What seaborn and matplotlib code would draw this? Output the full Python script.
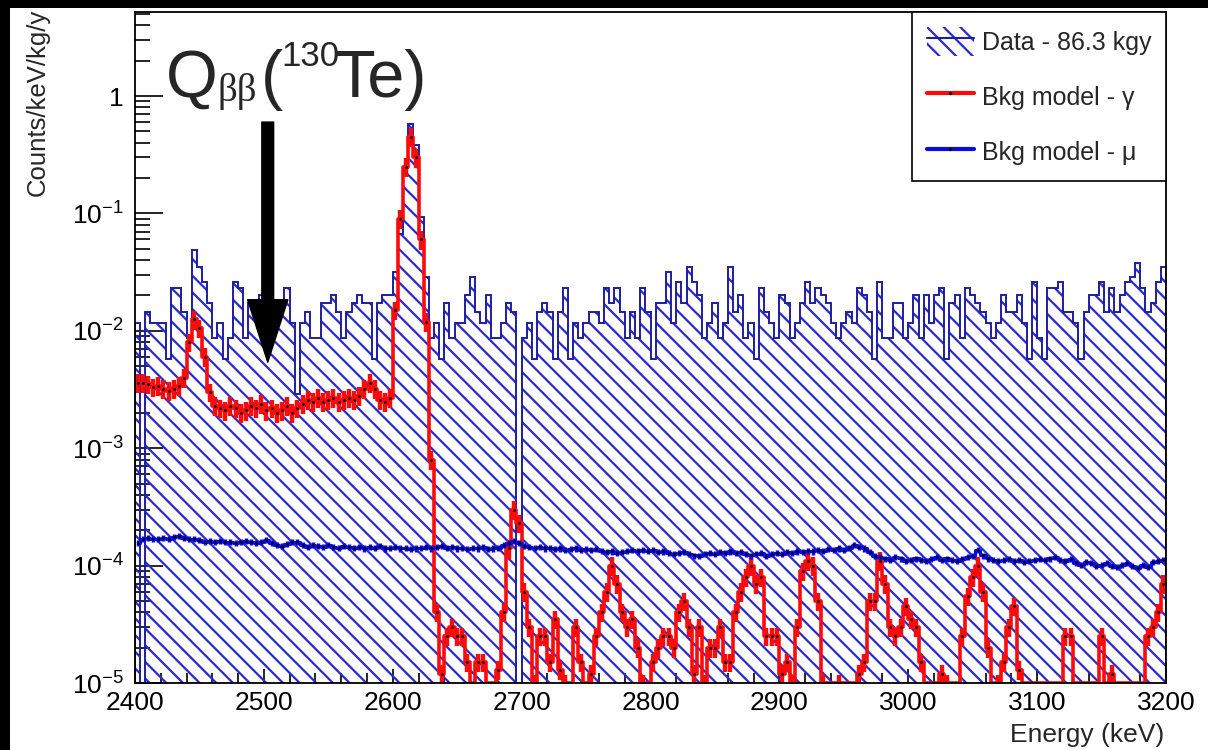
import numpy as np
import matplotlib
matplotlib.use('Agg')
import matplotlib.pyplot as plt
import seaborn as sns
from matplotlib.patches import Patch, Rectangle
from matplotlib.lines import Line2D
from matplotlib.ticker import FixedLocator, FuncFormatter, LogLocator, MultipleLocator, NullFormatter


# --------------------- data: 4 keV bins from 2400 to 3200 keV -------------------------- #
e_min, e_max, bin_width = 2400, 3200, 4
exposure = 86.3   # kg*y

# measured counts per bin
data_counts = [
    4, 0, 5, 4, 4, 4, 2, 8, 8, 5, 3, 17, 12, 9, 6, 3, 4, 2, 3, 9,
    8, 3, 6, 6, 7, 6, 6, 6, 6, 8, 4, 1, 4, 5, 3, 3, 6, 6, 7, 5,
    3, 5, 6, 7, 6, 6, 2, 6, 7, 7, 11, 23, 84, 200, 131, 32, 10, 3, 4, 2,
    6, 3, 4, 4, 7, 10, 5, 4, 7, 3, 3, 4, 6, 5, 0, 3, 4, 2, 5, 6,
    5, 2, 5, 8, 2, 4, 3, 4, 5, 5, 4, 8, 6, 8, 5, 3, 5, 3, 8, 5,
    2, 6, 6, 11, 4, 9, 6, 12, 9, 7, 3, 4, 6, 3, 4, 12, 5, 7, 3, 4,
    2, 8, 5, 4, 3, 7, 6, 3, 4, 6, 9, 6, 8, 7, 6, 4, 3, 4, 5, 4,
    8, 7, 5, 2, 9, 3, 3, 6, 6, 3, 4, 7, 3, 7, 4, 7, 8, 2, 6, 7,
    3, 8, 7, 6, 5, 4, 3, 4, 7, 5, 5, 7, 4, 2, 9, 3, 2, 8, 8, 9,
    5, 5, 4, 2, 5, 7, 7, 9, 5, 8, 5, 7, 9, 10, 13, 8, 5, 6, 9, 12,
]

# background model - gamma (counts/keV/kg/y)
gamma_model = [
    3.6e-3, 3.6e-3, 3.5e-3, 3.3e-3, 3.4e-3, 3.2e-3, 3.1e-3, 3.2e-3, 3.4e-3, 4.0e-3,
    8.0e-3, 1.25e-2, 1.05e-2, 6.0e-3, 3.0e-3, 2.3e-3, 2.2e-3, 2.1e-3, 2.3e-3, 2.2e-3,
    2.0e-3, 2.1e-3, 2.3e-3, 2.2e-3, 2.4e-3, 2.1e-3, 2.2e-3, 2.0e-3, 2.1e-3, 2.3e-3,
    2.0e-3, 2.2e-3, 2.4e-3, 2.6e-3, 2.5e-3, 2.7e-3, 2.5e-3, 2.6e-3, 2.7e-3, 2.5e-3,
    2.6e-3, 2.7e-3, 2.6e-3, 2.8e-3, 3.2e-3, 3.6e-3, 3.2e-3, 2.6e-3, 2.5e-3, 2.7e-3,
    1.5e-2, 9.0e-2, 0.25, 0.45, 0.30, 6.0e-2, 1.2e-2, 8.0e-4, 4.0e-5, 1.2e-5,
    2.5e-5, 3.0e-5, 2.5e-5, 2.5e-5, 1.5e-5, 0, 1.5e-5, 1.5e-5, 0, 0,
    1.3e-5, 4.0e-5, 1.4e-4, 3.0e-4, 2.3e-4, 6.0e-5, 3.0e-5, 1.0e-5, 2.5e-5, 2.5e-5,
    1.5e-5, 3.5e-5, 1.3e-5, 1.0e-5, 0, 3.0e-5, 1.5e-5, 0, 1.2e-5, 2.5e-5,
    4.0e-5, 6.0e-5, 1.0e-4, 7.0e-5, 4.0e-5, 3.0e-5, 3.5e-5, 2.0e-5, 1.0e-5, 0,
    1.5e-5, 2.0e-5, 2.5e-5, 2.5e-5, 2.0e-5, 4.0e-5, 5.0e-5, 3.0e-5, 1.2e-5, 3.0e-5,
    1.0e-5, 2.0e-5, 2.0e-5, 3.0e-5, 1.5e-5, 1.5e-5, 4.0e-5, 6.0e-5, 8.0e-5, 1.0e-4,
    7.0e-5, 8.0e-5, 2.5e-5, 2.5e-5, 2.5e-5, 1.2e-5, 1.5e-5, 1.0e-5, 3.0e-5, 9.0e-5,
    1.1e-4, 1.0e-4, 5.0e-5, 1.0e-5, 0, 0, 1.0e-5, 0, 0, 0,
    1.2e-5, 1.5e-5, 5.0e-5, 5.0e-5, 1.1e-4, 7.0e-5, 3.0e-5, 2.5e-5, 3.0e-5, 4.5e-5,
    3.5e-5, 3.0e-5, 1.5e-5, 0, 0, 0, 1.2e-5, 1.0e-5, 0, 0,
    2.5e-5, 5.5e-5, 8.0e-5, 1.0e-4, 6.0e-5, 2.0e-5, 0, 1.0e-5, 1.5e-5, 3.0e-5,
    4.5e-5, 1.3e-5, 0, 0, 0, 0, 0, 0, 0, 0,
    2.5e-5, 2.5e-5, 0, 0, 0, 0, 0, 2.5e-5, 0, 1.2e-5,
    0, 0, 0, 0, 0, 0, 2.5e-5, 3.0e-5, 4.0e-5, 7.0e-5,
]

# background model - muons (1e-4 counts/keV/kg/y)
muon_model = [
    1.55, 1.70, 1.72, 1.68, 1.70, 1.73, 1.70, 1.75, 1.80, 1.72,
    1.70, 1.68, 1.65, 1.60, 1.63, 1.60, 1.62, 1.58, 1.60, 1.55,
    1.60, 1.62, 1.58, 1.55, 1.60, 1.65, 1.55, 1.50, 1.48, 1.52,
    1.58, 1.60, 1.50, 1.45, 1.50, 1.48, 1.45, 1.50, 1.45, 1.42,
    1.48, 1.45, 1.42, 1.45, 1.40, 1.44, 1.42, 1.46, 1.40, 1.42,
    1.45, 1.40, 1.42, 1.38, 1.40, 1.42, 1.45, 1.40, 1.45, 1.48,
    1.42, 1.45, 1.40, 1.42, 1.38, 1.42, 1.40, 1.44, 1.38, 1.40,
    1.42, 1.50, 1.55, 1.62, 1.55, 1.48, 1.45, 1.42, 1.45, 1.40,
    1.42, 1.38, 1.40, 1.36, 1.38, 1.40, 1.36, 1.38, 1.35, 1.38,
    1.34, 1.30, 1.32, 1.28, 1.30, 1.33, 1.35, 1.32, 1.36, 1.33,
    1.35, 1.30, 1.32, 1.28, 1.25, 1.28, 1.30, 1.25, 1.22, 1.20,
    1.25, 1.28, 1.26, 1.30, 1.28, 1.32, 1.28, 1.30, 1.26, 1.22,
    1.25, 1.28, 1.20, 1.25, 1.28, 1.26, 1.30, 1.28, 1.32, 1.30,
    1.34, 1.32, 1.36, 1.34, 1.38, 1.35, 1.40, 1.36, 1.42, 1.50,
    1.45, 1.40, 1.30, 1.20, 1.18, 1.15, 1.12, 1.18, 1.15, 1.10,
    1.12, 1.15, 1.12, 1.10, 1.14, 1.18, 1.12, 1.15, 1.12, 1.10,
    1.14, 1.18, 1.20, 1.35, 1.22, 1.15, 1.12, 1.10, 1.12, 1.14,
    1.10, 1.12, 1.08, 1.10, 1.12, 1.14, 1.12, 1.15, 1.18, 1.12,
    1.10, 1.14, 1.05, 1.02, 1.08, 1.05, 1.00, 1.02, 1.06, 1.00,
    0.98, 1.02, 1.05, 1.00, 0.96, 1.02, 0.98, 1.08, 1.10, 1.12,
]

legend_labels = ['Data - 86.3 kgy', 'Bkg model - \u03b3', 'Bkg model - \u03bc']
x_ticks = [2400, 2500, 2600, 2700, 2800, 2900, 3000, 3100, 3200]
y_ticks = [1e-5, 1e-4, 1e-3, 1e-2, 1e-1, 1]

data_outline = '#1e1ea0'
data_hatch = '#2a2ad2'
mu_blue = '#0a0ae6'
gamma_red = '#ff0a0a'

# --------------------- derived arrays -------------------------- #
edges = np.arange(e_min, e_max + bin_width, bin_width)
centers = 0.5 * (edges[:-1] + edges[1:])
data_rate = np.array(data_counts) / (exposure * bin_width)
gamma = np.array(gamma_model)
muon = np.array(muon_model) * 1e-4
assert len(data_rate) == len(centers) == len(gamma) == len(muon)

data_plot = np.where(data_rate > 0, data_rate, 1e-7)
gamma_plot = np.where(gamma > 0, gamma, 1e-5)

# --------------------- style -------------------------- #
sns.set_style('ticks')
plt.rcParams['font.family'] = ['Liberation Sans', 'DejaVu Sans']
plt.rcParams['mathtext.fontset'] = 'custom'
plt.rcParams['mathtext.rm'] = 'Liberation Sans'
plt.rcParams['mathtext.it'] = 'Liberation Sans:italic'
plt.rcParams['hatch.linewidth'] = 1.6

fig = plt.figure(figsize=(12.08, 7.5), dpi=100)
ax = fig.add_axes([135 / 1208, 1 - 683 / 750, (1166 - 135) / 1208, (683 - 12) / 750])
ax.set_yscale('log')

# data histogram: hatch fill + outline
ax.stairs(data_plot, edges, baseline=1e-7, fill=True,
          facecolor='none', edgecolor=data_hatch, hatch='\\\\',
          linewidth=0, zorder=1)
ax.stairs(data_plot, edges, baseline=1e-7, fill=False,
          color=data_outline, linewidth=1.4, zorder=2)

# gamma model
sns.lineplot(x=centers, y=gamma_plot, drawstyle='steps-mid',
             color=gamma_red, linewidth=2.6, ax=ax, zorder=3)
pos = gamma > 0
ax.errorbar(centers[pos], gamma[pos], yerr=0.18 * gamma[pos], fmt='none',
            ecolor=gamma_red, elinewidth=3.2, capsize=0, zorder=3)
ax.plot(centers[pos], gamma[pos], ls='none', marker='.', ms=2, color='black', zorder=4)

# muon model
sns.lineplot(x=centers, y=muon, drawstyle='steps-mid',
             color=mu_blue, linewidth=2.2, ax=ax, zorder=3)
ax.errorbar(centers, muon, yerr=0.06 * muon, fmt='none',
            ecolor=mu_blue, elinewidth=2.5, capsize=0, zorder=3)
ax.plot(centers, muon, ls='none', marker='.', ms=2, color='black', zorder=4)

# axes
ax.set_xlim(e_min, e_max)
ax.set_ylim(1e-5, 5.2)
ax.xaxis.set_major_locator(FixedLocator(x_ticks))
ax.xaxis.set_minor_locator(MultipleLocator(20))
ax.yaxis.set_major_locator(FixedLocator(y_ticks))
ax.yaxis.set_minor_locator(LogLocator(base=10, subs=np.arange(2, 10)))
ax.yaxis.set_minor_formatter(NullFormatter())
ax.yaxis.set_major_formatter(FuncFormatter(
    lambda v, p: '1' if v == 1 else r'$\mathregular{10^{%d}}$' % round(np.log10(v))))

ax.tick_params(which='both', direction='in', top=False, right=False,
               labelsize=19, color='black', labelcolor='black')
ax.tick_params(axis='y', which='major', length=20, width=1.2, pad=8)
ax.tick_params(axis='y', which='minor', length=11, width=1.2)
ax.tick_params(axis='x', which='major', length=10, width=1.2, pad=6)
ax.tick_params(axis='x', which='minor', length=7, width=1.2)
for s in ax.spines.values():
    s.set_linewidth(1.3)
    s.set_color('black')
    s.set_zorder(5)

fig.text(38 / 1208, 1 - 9 / 750, 'Counts/keV/kg/y', rotation=90,
         ha='center', va='top', fontsize=18.5)
fig.text(1164 / 1208, 1 - 742 / 750, 'Energy (keV)', ha='right', va='baseline', fontsize=19)

# Q-value arrow and label
ax.annotate('', xy=(2503, 5.4e-3), xytext=(2503, 0.6),
            arrowprops=dict(facecolor='black', edgecolor='black', width=8.5,
                            headwidth=29, headlength=45, shrink=0), zorder=6)
q_size = 48
fig.text(166 / 1208, 1 - 97 / 750, 'Q', fontsize=q_size, va='baseline', ha='left')
fig.text(218 / 1208, 1 - 101 / 750, '\u03b2\u03b2', fontsize=28, va='baseline', ha='left',
         family=['Liberation Serif', 'DejaVu Serif'])
fig.text(261 / 1208, 1 - 97 / 750, '(', fontsize=q_size, va='baseline', ha='left')
fig.text(281 / 1208, 1 - 66 / 750, '130', fontsize=25, va='baseline', ha='left')
fig.text(334 / 1208, 1 - 97 / 750, 'Te)', fontsize=q_size, va='baseline', ha='left')

# legend
data_handle = (Patch(facecolor='white', edgecolor=data_hatch, hatch='\\\\', linewidth=0),
               Line2D([], [], color=data_outline, lw=1.5))
gamma_handle = Line2D([], [], color=gamma_red, lw=3, marker='.', ms=3,
                      markerfacecolor='black', markeredgecolor='black')
mu_handle = Line2D([], [], color=mu_blue, lw=3, marker='.', ms=3,
                   markerfacecolor='black', markeredgecolor='black')
leg = ax.legend([data_handle, gamma_handle, mu_handle], legend_labels,
                loc='upper right', bbox_to_anchor=(1, 1), borderaxespad=0,
                fontsize=18, frameon=True, fancybox=False, framealpha=1,
                edgecolor='black', handlelength=1.9, handleheight=1.4,
                labelspacing=1.05, borderpad=0.6, handletextpad=0.3)
leg.get_frame().set_linewidth(1.2)
leg.set_zorder(7)

# black frame at top and left of the picture
fig.patches.append(Rectangle((0, 1 - 8 / 750), 1, 8 / 750, transform=fig.transFigure,
                             facecolor='black', edgecolor='none', zorder=10))
fig.patches.append(Rectangle((0, 0), 10 / 1208, 1, transform=fig.transFigure,
                             facecolor='black', edgecolor='none', zorder=10))

fig.savefig('out.png', dpi=100)
